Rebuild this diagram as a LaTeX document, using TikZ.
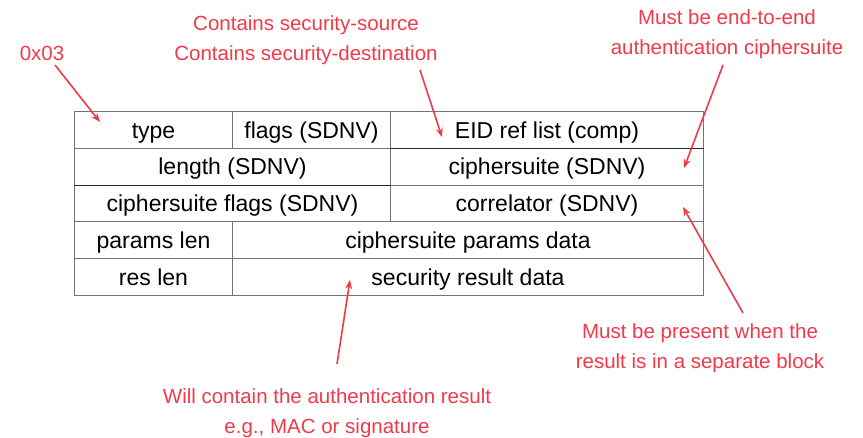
\documentclass[tikz,border=0pt]{standalone}
\usepackage{fontspec}
\setmainfont{Liberation Sans}
\usetikzlibrary{arrows.meta}
\definecolor{note}{RGB}{240,58,74}
\definecolor{rule}{RGB}{115,115,115}
\definecolor{darkrule}{RGB}{40,40,40}
\begin{document}
\begin{tikzpicture}[x=1pt,y=-1pt,
  cell/.style={draw=rule,line width=1pt,rectangle,anchor=north west,inner sep=0pt,
    minimum height=36.8pt,text height=16.5pt,text depth=0pt,
    font=\fontsize{23}{27}\selectfont},
  notetext/.style={text=note,align=center,inner sep=0pt,font=\fontsize{20.5}{30}\selectfont},
  pointer/.style={draw=note,line width=1.6pt,-{Stealth[length=9pt,width=7pt]}},
  heavyrule/.style={draw=darkrule,line width=1.1pt}]
\useasboundingbox (0,0) rectangle (863,438);
% packet layout, five rows
\node[cell,minimum width=158pt] (type) at (74,111) {type};
\node[cell,minimum width=158pt] (flags) at (232,111) {flags (SDNV)};
\node[cell,minimum width=313pt] (eid) at (390,111) {EID ref list (comp)};
\node[cell,minimum width=316pt] (len) at (74,147.8) {length (SDNV)};
\node[cell,minimum width=313pt] (cs) at (390,147.8) {ciphersuite (SDNV)};
\node[cell,minimum width=316pt] (csf) at (74,184.6) {ciphersuite flags (SDNV)};
\node[cell,minimum width=313pt] (corr) at (390,184.6) {correlator (SDNV)};
\node[cell,minimum width=158pt] (plen) at (74,221.4) {params len};
\node[cell,minimum width=471pt] (pdata) at (232,221.4) {ciphersuite params data};
\node[cell,minimum width=158pt] (rlen) at (74,258.2) {res len};
\node[cell,minimum width=471pt] (rdata) at (232,258.2) {security result data};
% darker field boundaries
\draw[heavyrule] (eid.south west) -- (eid.south east);
\draw[heavyrule] (len.south west) -- (len.south east);
% annotations
\node[notetext] (n1) at (42,53) {0x03};
\node[notetext] (n2) at (306,40) {Contains security-source\\Contains security-destination};
\node[notetext] (n3) at (727,34) {Must be end-to-end\\authentication ciphersuite};
\node[notetext] (n4) at (700,348.5) {Must be present when the\\result is in a separate block};
\node[notetext] (n5) at (327,413.5) {Will contain the authentication result\\e.g., MAC or signature};
% arrow ends
\coordinate (t1) at (100,122);
\coordinate (t2) at (442,137);
\coordinate (t3) at (684,168);
\coordinate (t4) at (683,207);
\coordinate (t5) at (350,280);
\coordinate (s1) at (55,65);
\coordinate (s2) at (420,70);
\coordinate (s3) at (723,65);
\coordinate (s4) at (743,313);
\coordinate (s5) at (337,364);
\draw[pointer] (s1) -- (t1);
\draw[pointer] (s2) -- (t2);
\draw[pointer] (s3) -- (t3);
\draw[pointer] (s4) -- (t4);
\draw[pointer] (s5) -- (t5);
\end{tikzpicture}
\end{document}
